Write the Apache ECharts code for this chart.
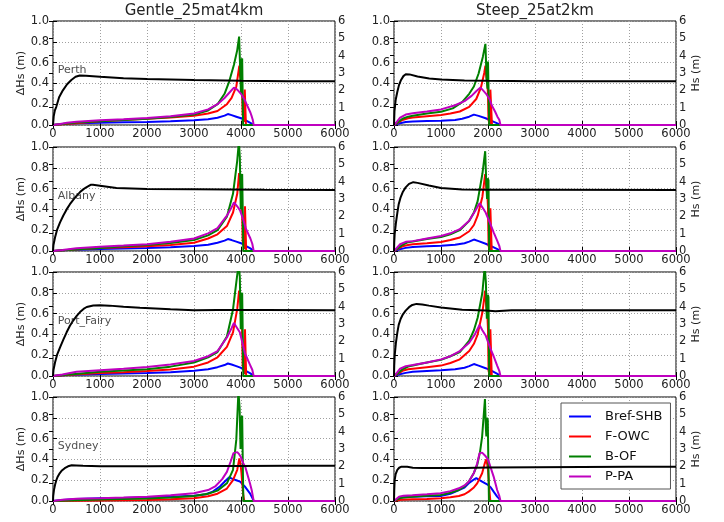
<!DOCTYPE html>
<html><head><meta charset="utf-8">
<script src="https://cdn.jsdelivr.net/npm/echarts@6/dist/echarts.min.js"></script>
<style>html,body{margin:0;padding:0;background:#fff}#c{width:724px;height:522px}</style>
</head><body><div id="c"></div>
<script>
// ---------- labels ----------
const caseTitles = ['Gentle_25mat4km', 'Steep_25at2km'];
const stations = ['Perth', 'Albany', 'Port_Fairy', 'Sydney'];
const seriesNames = ['Bref-SHB', 'F-OWC', 'B-OF', 'P-PA'];
const leftAxisName = 'ΔHs (m)';
const rightAxisName = 'Hs (m)';

// ---------- Perth ----------
const perthGentleBref = [[0,0],[200,0.01],[500,0.018],[1000,0.022],[1500,0.026],[2000,0.03],[2500,0.036],[3000,0.045],[3300,0.055],[3500,0.07],[3650,0.09],[3720,0.105],[3800,0.095],[3900,0.08],[4000,0.065],[4100,0.045],[4200,0.02],[4270,0],[6000,0]];
const perthGentleFowc = [[0,0],[200,0.008],[500,0.018],[1000,0.035],[1500,0.047],[2000,0.06],[2500,0.073],[3000,0.09],[3300,0.11],[3500,0.135],[3700,0.2],[3800,0.26],[3900,0.37],[3965,0.57],[3980,0.47],[4000,0.42],[4020,0.38],[4035,0.1],[4060,0.03],[4080,0.34],[4095,0.34],[4105,0],[6000,0]];
const perthGentleBof = [[0,0],[150,0.008],[300,0.015],[500,0.025],[1000,0.037],[1500,0.048],[2000,0.06],[2500,0.077],[3000,0.1],[3300,0.14],[3500,0.2],[3650,0.3],[3750,0.42],[3850,0.58],[3920,0.72],[3960,0.85],[3985,0.5],[4000,0.3],[4010,0.62],[4025,0.64],[4035,0.3],[4045,0],[6000,0]];
const perthGentlePpa = [[0,0],[150,0.01],[300,0.022],[500,0.032],[1000,0.045],[1500,0.055],[2000,0.068],[2500,0.085],[3000,0.11],[3300,0.15],[3500,0.2],[3650,0.26],[3750,0.31],[3850,0.36],[3920,0.34],[4000,0.3],[4080,0.24],[4150,0.17],[4200,0.12],[4230,0.08],[4250,0.05],[4270,0],[6000,0]];
const perthGentleHs = [[0,0],[15,0.5],[40,0.85],[70,1.05],[130,1.6],[210,2.0],[300,2.35],[390,2.6],[480,2.78],[570,2.86],[700,2.84],[1000,2.78],[1500,2.7],[2000,2.65],[3000,2.59],[4000,2.55],[5000,2.53],[6000,2.53]];

const perthSteepBref = [[0,0],[100,0.015],[250,0.028],[400,0.033],[700,0.038],[1000,0.042],[1300,0.048],[1450,0.06],[1600,0.08],[1700,0.1],[1800,0.088],[1950,0.065],[2100,0.035],[2200,0.015],[2265,0],[6000,0]];
const perthSteepFowc = [[0,0],[80,0.02],[180,0.048],[300,0.065],[400,0.073],[700,0.085],[1000,0.096],[1200,0.11],[1400,0.13],[1600,0.175],[1750,0.25],[1850,0.36],[1920,0.5],[1945,0.57],[1965,0.46],[1985,0.4],[2000,0.3],[2010,0.05],[2040,0],[2050,0.34],[2070,0.33],[2085,0],[6000,0]];
const perthSteepBof = [[0,0],[80,0.025],[180,0.06],[300,0.08],[400,0.088],[700,0.11],[1000,0.128],[1250,0.16],[1450,0.22],[1600,0.3],[1700,0.37],[1800,0.495],[1890,0.655],[1945,0.78],[1970,0.45],[1990,0.35],[2000,0.61],[2012,0.6],[2025,0],[6000,0]];
const perthSteepPpa = [[0,0],[60,0.03],[130,0.07],[250,0.1],[400,0.112],[700,0.13],[1000,0.15],[1300,0.19],[1500,0.23],[1650,0.28],[1760,0.33],[1840,0.36],[1900,0.33],[1960,0.3],[2030,0.25],[2090,0.18],[2150,0.13],[2200,0.08],[2240,0.05],[2265,0],[6000,0]];
const perthSteepHs = [[0,0],[10,0.8],[35,1.44],[70,1.9],[106,2.3],[150,2.6],[200,2.82],[250,2.93],[330,2.92],[500,2.8],[750,2.68],[1000,2.62],[1500,2.57],[2000,2.55],[3000,2.53],[6000,2.52]];

// ---------- Albany ----------
const albanyGentleBref = [[0,0],[300,0.01],[1000,0.02],[2000,0.028],[2500,0.035],[3000,0.048],[3300,0.06],[3500,0.08],[3650,0.1],[3720,0.115],[3800,0.105],[3900,0.09],[4000,0.075],[4100,0.05],[4200,0.025],[4270,0],[6000,0]];
const albanyGentleFowc = [[0,0],[300,0.01],[1000,0.028],[1500,0.036],[2000,0.045],[2500,0.058],[3000,0.08],[3300,0.12],[3500,0.16],[3700,0.24],[3830,0.37],[3920,0.55],[3960,0.75],[3985,0.64],[4000,0.55],[4020,0.45],[4035,0.1],[4070,0.02],[4085,0.43],[4100,0.42],[4110,0],[6000,0]];
const albanyGentleBof = [[0,0],[300,0.01],[1000,0.03],[1500,0.045],[2000,0.058],[2500,0.078],[3000,0.106],[3300,0.15],[3500,0.2],[3700,0.33],[3830,0.55],[3920,0.87],[3955,1.05],[3975,0.9],[3995,0.4],[4010,0.72],[4025,0.74],[4040,0.3],[4050,0],[6000,0]];
const albanyGentlePpa = [[0,0],[200,0.01],[500,0.026],[1000,0.04],[1500,0.052],[2000,0.065],[2500,0.088],[3000,0.12],[3300,0.17],[3500,0.22],[3700,0.34],[3800,0.42],[3850,0.468],[3920,0.43],[3980,0.39],[4050,0.3],[4100,0.22],[4150,0.17],[4200,0.12],[4240,0.07],[4270,0],[6000,0]];
const albanyGentleHs = [[0,0],[10,0.35],[43,0.78],[90,1.25],[150,1.65],[220,2.05],[290,2.4],[360,2.7],[430,2.95],[500,3.18],[575,3.4],[650,3.57],[717,3.69],[800,3.82],[850,3.82],[1000,3.77],[1350,3.64],[2000,3.58],[3000,3.56],[4500,3.53],[6000,3.52]];

const albanySteepBref = [[0,0],[100,0.015],[250,0.03],[400,0.038],[700,0.045],[1000,0.05],[1300,0.06],[1500,0.075],[1600,0.09],[1700,0.11],[1800,0.095],[1950,0.07],[2100,0.04],[2200,0.018],[2265,0],[6000,0]];
const albanySteepFowc = [[0,0],[80,0.02],[180,0.045],[300,0.058],[400,0.064],[700,0.075],[1000,0.087],[1200,0.105],[1400,0.13],[1600,0.19],[1700,0.25],[1780,0.34],[1880,0.52],[1940,0.74],[1965,0.6],[1985,0.55],[2000,0.42],[2012,0.05],[2040,0],[2050,0.41],[2065,0.4],[2080,0],[6000,0]];
const albanySteepBof = [[0,0],[80,0.025],[180,0.06],[300,0.085],[400,0.092],[700,0.115],[1000,0.135],[1200,0.16],[1400,0.2],[1600,0.29],[1700,0.37],[1780,0.48],[1880,0.74],[1940,0.96],[1960,0.7],[1980,0.5],[1995,0.7],[2010,0.68],[2025,0],[6000,0]];
const albanySteepPpa = [[0,0],[60,0.03],[130,0.065],[250,0.088],[400,0.095],[700,0.12],[1000,0.145],[1200,0.17],[1400,0.21],[1600,0.29],[1720,0.38],[1820,0.46],[1880,0.42],[1950,0.37],[2050,0.26],[2120,0.18],[2195,0.1],[2240,0.05],[2265,0],[6000,0]];
const albanySteepHs = [[0,0],[5,0.5],[14,0.97],[40,1.6],[71,2.2],[100,2.7],[141,3.1],[190,3.42],[248,3.67],[320,3.87],[410,3.97],[500,3.93],[743,3.78],[1000,3.64],[1450,3.55],[2000,3.54],[3000,3.53],[6000,3.52]];

// ---------- Port_Fairy ----------
const fairyGentleBref = [[0,0],[300,0.01],[1000,0.02],[2000,0.03],[2500,0.037],[3000,0.05],[3300,0.065],[3500,0.085],[3650,0.105],[3720,0.12],[3800,0.11],[3900,0.095],[4000,0.078],[4100,0.05],[4200,0.025],[4270,0],[6000,0]];
const fairyGentleFowc = [[0,0],[300,0.01],[1000,0.028],[1500,0.037],[2000,0.047],[2500,0.062],[3000,0.09],[3300,0.13],[3500,0.18],[3700,0.28],[3830,0.42],[3920,0.645],[3960,0.82],[3985,0.74],[4000,0.6],[4020,0.5],[4035,0.1],[4070,0.02],[4085,0.45],[4100,0.44],[4110,0],[6000,0]];
const fairyGentleBof = [[0,0],[300,0.012],[1000,0.04],[1500,0.052],[2000,0.065],[2500,0.09],[3000,0.13],[3300,0.18],[3500,0.23],[3700,0.38],[3830,0.64],[3900,0.9],[3950,1.08],[3975,0.95],[3995,0.45],[4010,0.78],[4025,0.8],[4040,0.3],[4050,0],[6000,0]];
const fairyGentlePpa = [[0,0],[200,0.015],[500,0.04],[1000,0.055],[1500,0.07],[2000,0.087],[2500,0.11],[3000,0.145],[3300,0.19],[3500,0.24],[3700,0.37],[3800,0.46],[3850,0.51],[3920,0.46],[3975,0.42],[4030,0.32],[4080,0.225],[4150,0.15],[4190,0.11],[4240,0.06],[4270,0],[6000,0]];
const fairyGentleHs = [[0,0],[10,0.35],[43,0.78],[90,1.25],[150,1.65],[220,2.1],[290,2.52],[360,2.9],[430,3.2],[500,3.45],[575,3.69],[650,3.87],[717,3.98],[857,4.07],[1000,4.08],[1200,4.06],[1500,4.0],[1850,3.94],[2500,3.85],[3000,3.79],[3500,3.81],[4500,3.81],[6000,3.8]];

const fairySteepBref = [[0,0],[100,0.015],[250,0.03],[400,0.04],[700,0.048],[1000,0.055],[1300,0.065],[1500,0.08],[1600,0.095],[1700,0.115],[1800,0.1],[1950,0.075],[2100,0.045],[2200,0.02],[2265,0],[6000,0]];
const fairySteepFowc = [[0,0],[80,0.02],[180,0.05],[300,0.065],[400,0.07],[700,0.085],[1000,0.1],[1200,0.125],[1400,0.16],[1600,0.24],[1700,0.31],[1780,0.4],[1880,0.61],[1940,0.82],[1965,0.65],[1985,0.6],[2000,0.45],[2012,0.05],[2040,0],[2050,0.45],[2065,0.44],[2080,0],[6000,0]];
const fairySteepBof = [[0,0],[80,0.025],[180,0.065],[300,0.09],[400,0.1],[700,0.13],[1000,0.155],[1200,0.19],[1400,0.23],[1600,0.34],[1700,0.44],[1780,0.56],[1880,0.8],[1930,1.05],[1955,0.9],[1975,0.55],[1995,0.78],[2010,0.76],[2025,0],[6000,0]];
const fairySteepPpa = [[0,0],[60,0.03],[130,0.07],[250,0.095],[400,0.105],[700,0.13],[1000,0.16],[1200,0.19],[1400,0.24],[1600,0.32],[1720,0.4],[1820,0.49],[1880,0.44],[1950,0.39],[2050,0.265],[2120,0.19],[2195,0.1],[2240,0.05],[2265,0],[6000,0]];
const fairySteepHs = [[0,0],[5,0.6],[14,1.16],[40,1.9],[71,2.5],[100,2.95],[141,3.29],[190,3.56],[248,3.77],[320,3.97],[390,4.1],[480,4.16],[600,4.13],[743,4.06],[1000,3.95],[1450,3.82],[1950,3.78],[2160,3.74],[2500,3.79],[3000,3.79],[6000,3.79]];

// ---------- Sydney ----------
const sydneyGentleBref = [[0,0],[200,0.01],[500,0.02],[1000,0.026],[1500,0.03],[2000,0.035],[2500,0.041],[3000,0.05],[3250,0.065],[3400,0.09],[3550,0.14],[3650,0.185],[3750,0.228],[3830,0.21],[3900,0.2],[3980,0.186],[4080,0.14],[4190,0.074],[4240,0.03],[4270,0],[6000,0]];
const sydneyGentleFowc = [[0,0],[500,0.002],[1000,0.004],[2000,0.01],[2500,0.016],[3000,0.026],[3300,0.045],[3500,0.07],[3700,0.12],[3830,0.2],[3920,0.3],[3965,0.41],[3990,0.35],[4010,0.27],[4030,0.15],[4050,0.05],[4070,0],[6000,0]];
const sydneyGentleBof = [[0,0],[300,0.005],[1000,0.015],[2000,0.025],[2500,0.034],[3000,0.048],[3300,0.07],[3500,0.1],[3700,0.17],[3830,0.3],[3900,0.59],[3945,1.05],[3970,0.9],[3990,0.5],[4010,0.8],[4025,0.82],[4040,0.3],[4050,0],[6000,0]];
const sydneyGentlePpa = [[0,0],[200,0.012],[500,0.022],[1000,0.027],[1500,0.034],[2000,0.042],[2500,0.055],[3000,0.074],[3300,0.105],[3450,0.14],[3600,0.21],[3700,0.28],[3780,0.38],[3840,0.46],[3880,0.478],[3920,0.47],[3960,0.45],[4000,0.42],[4050,0.36],[4090,0.33],[4140,0.25],[4190,0.17],[4230,0.1],[4270,0],[6000,0]];
const sydneyGentleHs = [[0,0],[5,0.3],[21,0.64],[45,0.95],[71,1.2],[100,1.4],[142,1.6],[190,1.76],[249,1.89],[320,2.0],[398,2.06],[500,2.05],[640,2.03],[1000,2.0],[2000,2.01],[3000,2.02],[4000,2.02],[5000,2.03],[6000,2.03]];

const sydneySteepBref = [[0,0],[50,0.01],[106,0.026],[200,0.035],[390,0.042],[700,0.045],[990,0.048],[1200,0.07],[1380,0.106],[1500,0.13],[1590,0.17],[1680,0.2],[1750,0.22],[1820,0.2],[1875,0.186],[2000,0.154],[2060,0.13],[2120,0.09],[2195,0.042],[2240,0.02],[2265,0],[6000,0]];
const sydneySteepFowc = [[0,0],[50,0.005],[150,0.012],[390,0.016],[700,0.02],[1000,0.026],[1200,0.035],[1380,0.048],[1500,0.065],[1590,0.09],[1700,0.13],[1770,0.17],[1875,0.267],[1930,0.36],[1960,0.4],[1985,0.35],[2000,0.3],[2015,0.2],[2030,0.1],[2050,0],[6000,0]];
const sydneySteepBof = [[0,0],[50,0.01],[150,0.03],[390,0.042],[700,0.05],[990,0.058],[1200,0.08],[1380,0.106],[1500,0.14],[1590,0.186],[1700,0.27],[1770,0.347],[1830,0.47],[1875,0.62],[1935,0.98],[1955,0.7],[1965,0.62],[1980,0.8],[1995,0.78],[2010,0.3],[2020,0],[6000,0]];
const sydneySteepPpa = [[0,0],[50,0.02],[106,0.042],[200,0.05],[390,0.055],[700,0.064],[990,0.074],[1200,0.095],[1380,0.122],[1500,0.15],[1590,0.186],[1700,0.27],[1770,0.36],[1820,0.46],[1875,0.465],[1950,0.43],[2000,0.4],[2050,0.33],[2120,0.235],[2195,0.106],[2240,0.05],[2265,0],[6000,0]];
const sydneySteepHs = [[0,0],[5,0.6],[14,1.2],[35,1.55],[71,1.8],[110,1.92],[160,1.98],[200,2.0],[280,1.97],[400,1.92],[600,1.9],[1000,1.9],[1500,1.91],[2000,1.93],[3000,1.95],[4000,1.96],[5000,1.97],[6000,1.98]];

// ---------- assemble ----------
const panelData = [
  [perthGentleBref, perthGentleFowc, perthGentleBof, perthGentlePpa, perthGentleHs],
  [perthSteepBref, perthSteepFowc, perthSteepBof, perthSteepPpa, perthSteepHs],
  [albanyGentleBref, albanyGentleFowc, albanyGentleBof, albanyGentlePpa, albanyGentleHs],
  [albanySteepBref, albanySteepFowc, albanySteepBof, albanySteepPpa, albanySteepHs],
  [fairyGentleBref, fairyGentleFowc, fairyGentleBof, fairyGentlePpa, fairyGentleHs],
  [fairySteepBref, fairySteepFowc, fairySteepBof, fairySteepPpa, fairySteepHs],
  [sydneyGentleBref, sydneyGentleFowc, sydneyGentleBof, sydneyGentlePpa, sydneyGentleHs],
  [sydneySteepBref, sydneySteepFowc, sydneySteepBof, sydneySteepPpa, sydneySteepHs]
];

const FONT = '"DejaVu Sans", sans-serif';
const lineColors = ['#0000ff', '#ff0000', '#008000', '#bf00bf'];
const colLeft = [53, 394];
const rowTop = [21, 147, 272, 397];
const GW = 282, GH = 104;
const tickColor = '#000';
const labelColor = '#222';
const TICK_FS = 11.5;
const gridLine = {show: true, lineStyle: {color: '#a0a0a0', type: [1, 2], width: 1}};

const grids = [], xAxes = [], yAxes = [], series = [];
panelData.forEach((lines, i) => {
  const row = Math.floor(i / 2), col = i % 2;
  grids.push({left: colLeft[col], top: rowTop[row], width: GW, height: GH,
    show: true, borderColor: '#000', borderWidth: 1, backgroundColor: 'transparent'});
  xAxes.push({type: 'value', gridIndex: i, min: 0, max: 6000, interval: 1000,
    axisLine: {show: false}, axisTick: {inside: true, length: 4, lineStyle: {color: tickColor}},
    axisLabel: {fontFamily: FONT, fontSize: TICK_FS, color: labelColor, margin: 3, formatter: v => String(v), showMinLabel: true, showMaxLabel: true},
    splitLine: gridLine});
  yAxes.push({type: 'value', gridIndex: i, position: 'left', min: 0, max: 1, interval: 0.2,
    axisLine: {show: false}, axisTick: {inside: true, length: 4, lineStyle: {color: tickColor}},
    axisLabel: {fontFamily: FONT, fontSize: TICK_FS, color: labelColor, margin: 4, formatter: v => v.toFixed(1), showMinLabel: true, showMaxLabel: true},
    splitLine: gridLine,
    name: col === 0 ? leftAxisName : '', nameLocation: 'middle', nameRotate: 90, nameGap: 22,
    nameTextStyle: {fontFamily: FONT, fontSize: 11, color: labelColor}});
  yAxes.push({type: 'value', gridIndex: i, position: 'right', min: 0, max: 6, interval: 1,
    axisLine: {show: false}, axisTick: {inside: true, length: 4, lineStyle: {color: tickColor}},
    axisLabel: {fontFamily: FONT, fontSize: TICK_FS, color: labelColor, margin: 3, showMinLabel: true, showMaxLabel: true},
    splitLine: {show: false},
    name: col === 1 ? rightAxisName : '', nameLocation: 'middle', nameRotate: 90, nameGap: 13,
    nameTextStyle: {fontFamily: FONT, fontSize: 11, color: labelColor}});
  for (let k = 0; k < 4; k++) {
    series.push({type: 'line', name: seriesNames[k], xAxisIndex: i, yAxisIndex: 2 * i,
      data: lines[k], symbol: 'none', showSymbol: false, color: lineColors[k],
      lineStyle: {width: 2, color: lineColors[k]}, z: 2, silent: true, clip: true});
  }
  series.push({type: 'line', name: 'Hs', xAxisIndex: i, yAxisIndex: 2 * i + 1,
    data: lines[4], symbol: 'none', showSymbol: false, color: '#000',
    lineStyle: {width: 2, color: '#000'}, z: 5, silent: true, clip: true});
  if (col === 0) {
    series.push({type: 'scatter', xAxisIndex: i, yAxisIndex: 2 * i, data: [[100, 0.53]],
      symbolSize: 0, silent: true, z: 6,
      label: {show: true, position: 'right', distance: 0, formatter: stations[row],
        fontFamily: FONT, fontSize: 11, color: labelColor}});
  }
});
// top x axes (ticks only)
panelData.forEach((lines, i) => {
  xAxes.push({type: 'value', gridIndex: i, position: 'top', min: 0, max: 6000, interval: 1000,
    axisLine: {show: false}, axisTick: {inside: true, length: 4, lineStyle: {color: tickColor}},
    axisLabel: {show: false}, splitLine: {show: false}});
});

const chart = echarts.init(document.getElementById('c'), null, {renderer: 'canvas'});
chart.setOption({
  animation: false,
  backgroundColor: '#fff',
  grid: grids, xAxis: xAxes, yAxis: yAxes, series: series,
  legend: {data: seriesNames, orient: 'vertical', left: 561, top: 403,
    icon: 'rect', itemWidth: 22, itemHeight: 2, itemGap: 7,
    padding: [7, 8, 6, 8], backgroundColor: '#fff', borderColor: '#555', borderWidth: 1,
    selectedMode: false, z: 4,
    textStyle: {fontFamily: FONT, fontSize: 13, color: '#111', padding: [0, 0, 0, 9]}},
  graphic: caseTitles.map((t, c) => ({type: 'text', x: colLeft[c] + GW / 2, y: 11,
    style: {text: t, font: '15px "DejaVu Sans"', fill: '#222', align: 'center', verticalAlign: 'middle'}}))
});
</script></body></html>
